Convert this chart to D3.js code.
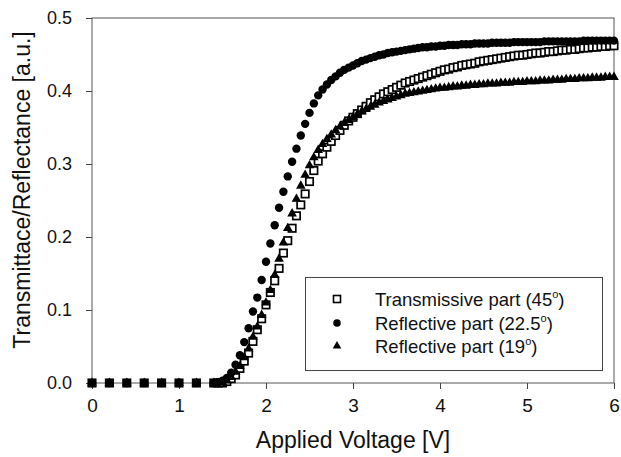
<!DOCTYPE html>
<html>
<head>
<meta charset="utf-8">
<script src="https://cdn.jsdelivr.net/npm/d3@7"></script>
<style>
  body { margin: 0; background: #fff; }
  svg { display: block; font-family: "Liberation Sans", Arial, sans-serif; }
</style>
</head>
<body>
<svg id="chart" width="621" height="457"></svg>
<script>
// applied voltage [V]
var voltage = [0, 0.2, 0.4, 0.6, 0.8, 1.0, 1.2, 1.4,
  1.45, 1.5, 1.55, 1.6, 1.65, 1.7, 1.75, 1.8, 1.85, 1.9,
  1.95, 2.0, 2.05, 2.1, 2.15, 2.2, 2.25, 2.3, 2.35, 2.4,
  2.45, 2.5, 2.55, 2.6, 2.65, 2.7, 2.75, 2.8, 2.85, 2.9,
  2.95, 3.0, 3.05, 3.1, 3.15, 3.2, 3.25, 3.3, 3.35, 3.4,
  3.45, 3.5, 3.55, 3.6, 3.65, 3.7, 3.75, 3.8, 3.85, 3.9,
  3.95, 4.0, 4.05, 4.1, 4.15, 4.2, 4.25, 4.3, 4.35, 4.4,
  4.45, 4.5, 4.55, 4.6, 4.65, 4.7, 4.75, 4.8, 4.85, 4.9,
  4.95, 5.0, 5.05, 5.1, 5.15, 5.2, 5.25, 5.3, 5.35, 5.4,
  5.45, 5.5, 5.55, 5.6, 5.65, 5.7, 5.75, 5.8, 5.85, 5.9,
  5.95, 6.0];

// Transmissive part (45o)
var transmissive45 = [0, 0, 0, 0, 0, 0, 0, 0,
  0, 0, 0.002, 0.006, 0.011, 0.020, 0.030, 0.041, 0.057, 0.073,
  0.088, 0.107, 0.124, 0.140, 0.157, 0.178, 0.195, 0.212, 0.229, 0.244,
  0.259, 0.276, 0.291, 0.304, 0.314, 0.323, 0.331, 0.339, 0.346, 0.353,
  0.359, 0.364, 0.369, 0.374, 0.379, 0.384, 0.388, 0.392, 0.396, 0.399,
  0.402, 0.405, 0.408, 0.411, 0.413, 0.415, 0.417, 0.419, 0.421, 0.423,
  0.425, 0.427, 0.429, 0.430, 0.432, 0.433, 0.435, 0.436, 0.437, 0.438,
  0.440, 0.441, 0.442, 0.443, 0.444, 0.445, 0.446, 0.447, 0.448, 0.449,
  0.449, 0.450, 0.451, 0.452, 0.452, 0.453, 0.454, 0.454, 0.455, 0.456,
  0.456, 0.457, 0.457, 0.458, 0.459, 0.459, 0.460, 0.460, 0.461, 0.461,
  0.462, 0.462];

// Reflective part (22.5o)
var reflective225 = [0, 0, 0, 0, 0, 0, 0, 0,
  0.001, 0.003, 0.007, 0.014, 0.025, 0.038, 0.056, 0.075, 0.098, 0.117,
  0.141, 0.166, 0.191, 0.216, 0.240, 0.262, 0.283, 0.303, 0.321, 0.339,
  0.355, 0.370, 0.383, 0.394, 0.402, 0.409, 0.415, 0.420, 0.425, 0.429,
  0.432, 0.435, 0.438, 0.441, 0.443, 0.445, 0.447, 0.449, 0.450, 0.452,
  0.453, 0.454, 0.455, 0.456, 0.457, 0.458, 0.459, 0.460, 0.460, 0.461,
  0.461, 0.462, 0.462, 0.463, 0.463, 0.463, 0.464, 0.464, 0.464, 0.465,
  0.465, 0.465, 0.465, 0.466, 0.466, 0.466, 0.466, 0.466, 0.467, 0.467,
  0.467, 0.467, 0.467, 0.467, 0.467, 0.468, 0.468, 0.468, 0.468, 0.468,
  0.468, 0.468, 0.468, 0.468, 0.469, 0.469, 0.469, 0.469, 0.469, 0.469,
  0.469, 0.469];

// Reflective part (19o)
var reflective19 = [0, 0, 0, 0, 0, 0, 0, 0,
  0, 0.001, 0.003, 0.008, 0.015, 0.023, 0.035, 0.047, 0.063, 0.077,
  0.093, 0.110, 0.127, 0.148, 0.170, 0.192, 0.212, 0.232, 0.252, 0.270,
  0.285, 0.298, 0.309, 0.319, 0.327, 0.334, 0.340, 0.346, 0.351, 0.356,
  0.360, 0.364, 0.368, 0.372, 0.375, 0.378, 0.381, 0.384, 0.386, 0.388,
  0.390, 0.392, 0.394, 0.396, 0.397, 0.398, 0.399, 0.400, 0.401, 0.402,
  0.403, 0.404, 0.404, 0.405, 0.406, 0.406, 0.407, 0.407, 0.408, 0.408,
  0.409, 0.409, 0.410, 0.410, 0.410, 0.411, 0.411, 0.411, 0.412, 0.412,
  0.412, 0.413, 0.413, 0.413, 0.414, 0.414, 0.414, 0.415, 0.415, 0.415,
  0.416, 0.416, 0.416, 0.417, 0.417, 0.417, 0.418, 0.418, 0.418, 0.419,
  0.419, 0.419];

var xTicks = [0, 1, 2, 3, 4, 5, 6];
var yTicks = [0, 0.1, 0.2, 0.3, 0.4, 0.5];
var legendLabels = ["Transmissive part (45", "Reflective part (22.5", "Reflective part (19"];

var svg = d3.select("#chart");

var x = d3.scaleLinear().domain([0, 6]).range([92, 614]);
var y = d3.scaleLinear().domain([0, 0.5]).range([383, 18]);

// axes
var xAxis = svg.append("g")
  .attr("transform", "translate(0,383)")
  .call(d3.axisBottom(x).tickValues(xTicks).tickSize(6).tickPadding(10).tickFormat(d3.format("d")));
xAxis.select(".domain").remove();
xAxis.selectAll("line").attr("stroke", "#444");
xAxis.selectAll("text").attr("font-size", 19).attr("fill", "#111")
  .attr("font-family", "'Liberation Sans', Arial, sans-serif");

var yAxis = svg.append("g")
  .attr("transform", "translate(92,0)")
  .call(d3.axisLeft(y).tickValues(yTicks).tickSize(6).tickPadding(14).tickFormat(d3.format(".1f")));
yAxis.select(".domain").remove();
yAxis.selectAll("line").attr("stroke", "#444");
yAxis.selectAll("text").attr("font-size", 18).attr("fill", "#111")
  .attr("font-family", "'Liberation Sans', Arial, sans-serif");

// plot frame
svg.append("rect")
  .attr("x", x(0)).attr("y", y(0.5))
  .attr("width", x(6) - x(0)).attr("height", y(0) - y(0.5))
  .attr("fill", "none").attr("stroke", "#555").attr("stroke-width", 1);

// axis titles
svg.append("text")
  .attr("x", 353).attr("y", 448)
  .attr("text-anchor", "middle")
  .attr("font-size", 23).attr("fill", "#111")
  .text("Applied Voltage [V]");

svg.append("text")
  .attr("transform", "translate(30,190) rotate(-90)")
  .attr("text-anchor", "middle")
  .attr("font-size", 23).attr("fill", "#111")
  .text("Transmittace/Reflectance [a.u.]");

// markers
var tri = d3.symbol().type(d3.symbolTriangle);

svg.append("g").selectAll("rect")
  .data(voltage.map(function(v, i) { return [v, transmissive45[i]]; }))
  .enter().append("rect")
  .attr("x", function(d) { return x(d[0]) - 3.7; })
  .attr("y", function(d) { return y(d[1]) - 3.7; })
  .attr("width", 7.4).attr("height", 7.4)
  .attr("fill", "#fff").attr("stroke", "#000").attr("stroke-width", 1.7);

svg.append("g").selectAll("circle")
  .data(voltage.map(function(v, i) { return [v, reflective225[i]]; }))
  .enter().append("circle")
  .attr("cx", function(d) { return x(d[0]); })
  .attr("cy", function(d) { return y(d[1]); })
  .attr("r", 4.2).attr("fill", "#000");

svg.append("g").selectAll("path")
  .data(voltage.map(function(v, i) { return [v, reflective19[i]]; }))
  .enter().append("path")
  .attr("d", tri.size(40))
  .attr("transform", function(d) { return "translate(" + x(d[0]) + "," + y(d[1]) + ")"; })
  .attr("fill", "#000");

// legend
var legend = svg.append("g");
legend.append("rect")
  .attr("x", 305.5).attr("y", 277.5).attr("width", 297).attr("height", 93)
  .attr("fill", "#fff").attr("stroke", "#444").attr("stroke-width", 1);

var rowY = [299, 323, 346];
legend.append("rect")
  .attr("x", 333.5).attr("y", rowY[0] - 3.5).attr("width", 7).attr("height", 7)
  .attr("fill", "#fff").attr("stroke", "#000").attr("stroke-width", 1.6);
legend.append("circle")
  .attr("cx", 337).attr("cy", rowY[1]).attr("r", 3.8).attr("fill", "#000");
legend.append("path")
  .attr("d", tri.size(32))
  .attr("transform", "translate(337," + rowY[2] + ")")
  .attr("fill", "#000");

legendLabels.forEach(function(label, i) {
  var t = legend.append("text")
    .attr("x", 375).attr("y", rowY[i] + 7)
    .attr("font-size", 18.5).attr("fill", "#111");
  t.append("tspan").text(label);
  t.append("tspan").attr("dy", -8).attr("font-size", 11).text("o");
  t.append("tspan").attr("dy", 8).text(")");
});
</script>
</body>
</html>
